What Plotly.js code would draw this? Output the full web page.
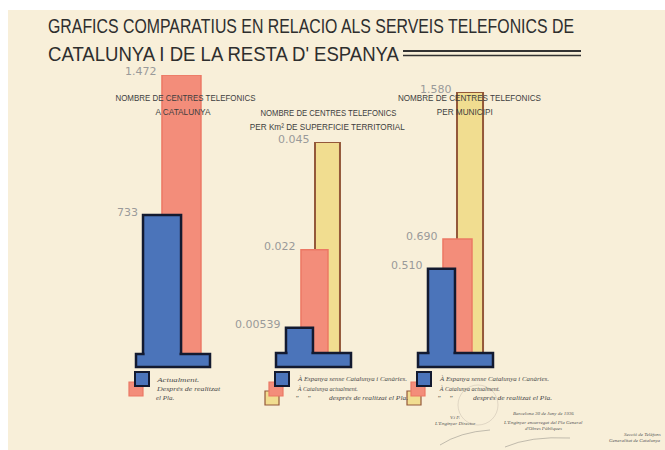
<!DOCTYPE html>
<html>
<head>
<meta charset="utf-8">
<script src="https://cdn.plot.ly/plotly-3.0.1.min.js"></script>
<style>html,body{margin:0;padding:0;background:#fff;}#chart{width:665px;height:450px;}</style>
</head>
<body>
<div id="chart"></div>
<script>
// ---- data ----
const titleLine1 = 'GRAFICS COMPARATIUS EN RELACIO ALS SERVEIS TELEFONICS DE';
const titleLine2 = "CATALUNYA I DE LA RESTA D' ESPANYA";

const panel1Title = ['NOMBRE DE CENTRES TELEFONICS', 'A CATALUNYA'];
const panel1Series = ['Actualment', 'Després de realitzat el Pla'];
const panel1Values = [733, 1472];
const panel1Labels = ['733', '1.472'];

const panel2Title = ['NOMBRE DE CENTRES TELEFONICS', 'PER Km² DE SUPERFICIE TERRITORIAL'];
const panel2Series = ['À Espanya sense Catalunya i Canàries', 'À Catalunya actualment', 'À Catalunya després de realitzat el Pla'];
const panel2Values = [0.00539, 0.022, 0.045];
const panel2Labels = ['0.00539', '0.022', '0.045'];

const panel3Title = ['NOMBRE DE CENTRES TELEFONICS', 'PER MUNICIPI'];
const panel3Series = ['À Espanya sense Catalunya i Canàries', 'À Catalunya actualment', 'À Catalunya després de realitzat el Pla'];
const panel3Values = [0.510, 0.690, 1.580];
const panel3Labels = ['0.510', '0.690', '1.580'];

const legend1Text = ['Actualment.', 'Després de realitzat', 'el Pla.'];
const legend23Text = ['À Espanya sense Catalunya i Canàries.', 'À Catalunya actualment.', 'després de realitzat el Pla.'];

// ---- styles ----
const W = 665, H = 450;
const px = v => v / W, py = v => 1 - v / H;
const BLUE = {color: '#4b74ba', line: {color: '#131a30', width: 2.5}};
const RED = {color: '#f38d7a', line: {color: '#ec7864', width: 1.5}};
const YEL = {color: '#f1dd90', line: {color: '#94583a', width: 2}};

const panels = [
  {vals: panel1Values, labels: panel1Labels, names: panel1Series, title: panel1Title,
   styles: [BLUE, RED], offs: [-0.405, -0.149], widths: [0.514, 0.527],
   xdom: [136, 210], ytop: 75, yzero: 354, titleX: [186, 183], titleY: [98, 112], titleLen: [140, 55]},
  {vals: panel2Values, labels: panel2Labels, names: panel2Series, title: panel2Title,
   styles: [BLUE, RED, YEL], offs: [-0.367, -0.167, 0.02], widths: [0.36, 0.36, 0.333],
   xdom: [276, 351], ytop: 142, yzero: 353, titleX: [328, 327.5], titleY: [113, 127], titleLen: [136, 155]},
  {vals: panel3Values, labels: panel3Labels, names: panel3Series, title: panel3Title,
   styles: [BLUE, RED, YEL], offs: [-0.367, -0.167, 0.02], widths: [0.36, 0.387, 0.347],
   xdom: [418, 493], ytop: 92, yzero: 353, titleX: [469, 465], titleY: [98, 112], titleLen: [143, 56]}
];

const traces = [];
const annotations = [];
const fitLen = [];   // desired rendered text widths (px) for some annotations
const shapes = [];
const layout = {
  width: W, height: H, margin: {l: 0, r: 0, t: 0, b: 0},
  paper_bgcolor: '#ffffff', plot_bgcolor: 'rgba(0,0,0,0)',
  showlegend: false, barmode: 'overlay',
  font: {family: 'Liberation Sans, Arial, sans-serif', color: '#333'}
};
function addAnn(a, len) { fitLen[annotations.length] = len; annotations.push(a); }

// paper sheet
shapes.push({type: 'rect', xref: 'paper', yref: 'paper', x0: px(8), x1: 1, y0: 0, y1: py(10),
  fillcolor: '#f8efd9', line: {width: 0}, layer: 'below'});

panels.forEach((p, k) => {
  const ax = k === 0 ? '' : String(k + 1);
  const xa = 'x' + ax, ya = 'y' + ax;
  layout['xaxis' + ax] = {domain: [px(p.xdom[0]), px(p.xdom[1])], range: [-0.5, 0.5],
    visible: false, fixedrange: true, anchor: ya};
  layout['yaxis' + ax] = {domain: [py(p.yzero), py(p.ytop)], range: [0, Math.max(...p.vals)],
    visible: false, fixedrange: true, anchor: xa};
  // draw back to front: last series behind
  for (let i = p.vals.length - 1; i >= 0; i--) {
    traces.push({type: 'bar', x: [0], y: [p.vals[i]], name: p.names[i],
      width: [p.widths[i]], offset: [p.offs[i]],
      marker: {color: p.styles[i].color, line: p.styles[i].line},
      xaxis: xa, yaxis: ya, hoverinfo: 'skip'});
    addAnn({xref: xa, yref: ya, x: p.offs[i], y: p.vals[i], text: p.labels[i],
      showarrow: false, xanchor: 'right', yanchor: 'middle', xshift: -3, yshift: 3,
      font: {family: 'DejaVu Sans, sans-serif', size: 11, color: '#9a9a9a'}});
  }
  // pedestal
  shapes.push({type: 'rect', xref: xa + ' domain', yref: 'paper', x0: 0, x1: 1,
    y0: py(367), y1: py(p.yzero), fillcolor: BLUE.color, line: {color: BLUE.line.color, width: 2.5}, layer: 'above'});
  // blend blue bar into pedestal
  const e = 1.6 / (p.xdom[1] - p.xdom[0]);
  shapes.push({type: 'rect', xref: xa, yref: 'paper', x0: p.offs[0] + e, x1: p.offs[0] + p.widths[0] - e,
    y0: py(p.yzero + 3), y1: py(p.yzero - 2), fillcolor: BLUE.color, line: {width: 0}, layer: 'above'});
  // titles
  p.title.forEach((t, j) => addAnn({xref: 'paper', yref: 'paper', x: px(p.titleX[j]), y: py(p.titleY[j]),
    text: t, showarrow: false, xanchor: 'center', yanchor: 'middle',
    font: {family: 'Liberation Sans, sans-serif', size: 9, color: '#3e3e3e'}}, p.titleLen[j]));
});

// main title
addAnn({xref: 'paper', yref: 'paper', x: px(46), y: py(26), text: titleLine1, showarrow: false,
  xanchor: 'left', yanchor: 'middle', font: {family: 'Liberation Sans, sans-serif', size: 20, color: '#2e2e2e'}}, 526);
addAnn({xref: 'paper', yref: 'paper', x: px(46), y: py(54), text: titleLine2, showarrow: false,
  xanchor: 'left', yanchor: 'middle', font: {family: 'Liberation Sans, sans-serif', size: 20, color: '#2e2e2e'}}, 351);
shapes.push({type: 'line', xref: 'paper', yref: 'paper', x0: px(403), x1: px(581), y0: py(51), y1: py(51), line: {color: '#333', width: 2}});
shapes.push({type: 'line', xref: 'paper', yref: 'paper', x0: px(403), x1: px(581), y0: py(55.5), y1: py(55.5), line: {color: '#333', width: 1.5}});

// legends
function sq(x, y, st) {
  shapes.push({type: 'rect', xref: 'paper', yref: 'paper', x0: px(x), x1: px(x + 14), y0: py(y + 14), y1: py(y),
    fillcolor: st.color, line: {color: st.line.color, width: st === BLUE ? 2 : 1.2}, layer: 'above'});
}
const legFont = {family: 'Liberation Serif, serif', size: 7, color: '#4a4a4a'};
function legText(x, y, t, len) {
  addAnn({xref: 'paper', yref: 'paper', x: px(x), y: py(y), text: '<i>' + t + '</i>', showarrow: false,
    xanchor: 'left', yanchor: 'middle', font: legFont}, len);
}
// panel 1
sq(129, 382, RED); sq(135, 372, BLUE);
legText(154, 380, legend1Text[0], 42); legText(154, 389, legend1Text[1], 63); legText(154, 398, legend1Text[2]);
// panel 2 & 3
[[265, 295, 293, 305, 327], [407, 437, 435, 447, 471]].forEach(c => {
  sq(c[0], 391, YEL); sq(c[0] + 4, 382, RED); sq(c[0] + 10, 372, BLUE);
  legText(c[1], 379, legend23Text[0], 109);
  legText(c[1], 389, legend23Text[1], 60);
  legText(c[2], 398, '\u201D'); legText(c[3], 398, '\u201D');
  legText(c[4], 398, legend23Text[2], 79);
});

// stamp & signatures
shapes.push({type: 'circle', xref: 'paper', yref: 'paper', x0: px(458), x1: px(498), y0: py(425), y1: py(385),
  line: {color: 'rgba(150,140,130,0.25)', width: 1}});
const tiny = {family: 'Liberation Serif, serif', size: 5, color: '#555'};
[[455, 417, 'V.i P.', 'center'], [455, 423, "L'Enginyer Director", 'center'], [543, 413, 'Barcelona 30 de Juny de 1936', 'center'],
 [543, 422, "L'Enginyer encarregat del Pla General", 'center'], [543, 428, "d'Obres Públiques", 'center'],
 [663, 434, 'Secció de Telèfons', 'right'], [663, 440, 'Generalitat de Catalunya', 'right']].forEach(s =>
  addAnn({xref: 'paper', yref: 'paper', x: px(s[0]), y: py(s[1]), text: '<i>' + s[2] + '</i>',
    showarrow: false, xanchor: s[3], yanchor: 'middle', font: tiny}));
shapes.push({type: 'path', xref: 'paper', yref: 'paper', path:
  `M ${px(440)} ${py(445)} Q ${px(460)} ${py(432)} ${px(490)} ${py(430)}`, line: {color: 'rgba(90,90,90,0.35)', width: 1}});
shapes.push({type: 'path', xref: 'paper', yref: 'paper', path:
  `M ${px(505)} ${py(447)} Q ${px(530)} ${py(436)} ${px(570)} ${py(438)}`, line: {color: 'rgba(90,90,90,0.35)', width: 1}});

layout.shapes = shapes;
layout.annotations = annotations;
Plotly.newPlot('chart', traces, layout, {staticPlot: true, displayModeBar: false}).then(gd => {
  // condense lettering to the hand-drawn widths, keeping the anchor edge in place
  gd.querySelectorAll('g.annotation').forEach(g => {
    const idx = +g.getAttribute('data-index');
    const len = fitLen[idx];
    if (!len) return;
    const t = g.querySelector('text.annotation-text');
    if (!t) return;
    const b0 = t.getBBox();
    t.setAttribute('textLength', len);
    t.setAttribute('lengthAdjust', 'spacingAndGlyphs');
    const b1 = t.getBBox();
    const a = annotations[idx];
    let dx;
    if (a.xanchor === 'left') dx = b0.x - b1.x;
    else if (a.xanchor === 'right') dx = (b0.x + b0.width) - (b1.x + b1.width);
    else dx = (b0.x + b0.width / 2) - (b1.x + b1.width / 2);
    const tr = t.getAttribute('transform') || '';
    t.setAttribute('transform', tr + ' translate(' + dx + ',0)');
  });
});
</script>
</body>
</html>
